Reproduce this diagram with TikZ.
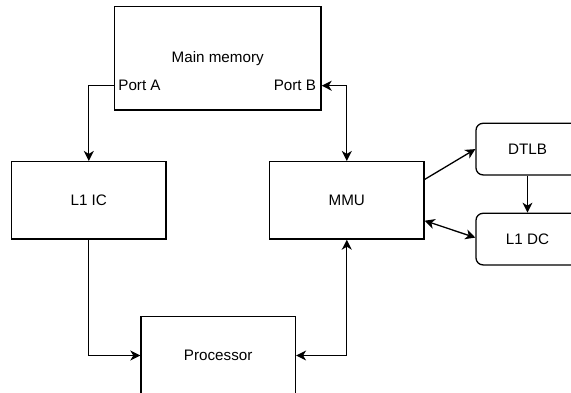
\documentclass[tikz,border=0pt]{standalone}
\usepackage{fontspec}
\setmainfont{Liberation Sans}
\usetikzlibrary{arrows.meta,calc}
\begin{document}
\begin{tikzpicture}[x=1pt,y=-1pt,
  box/.style={draw,line width=1.3pt,minimum width=154.5pt,minimum height=77.5pt,
    inner sep=0pt,font=\fontsize{15.2}{18}\selectfont},
  rbox/.style={box,rounded corners=7pt,minimum width=103pt,minimum height=51.6pt},
  lbl/.style={inner sep=0pt,font=\fontsize{15.2}{18}\selectfont},
  tip/.tip={Stealth[length=10pt,width=10pt,inset=3pt]},
  link/.style={line width=1.3pt,-tip},
  dlink/.style={line width=1.3pt,tip-tip}]
\useasboundingbox (0,0) rectangle (571,392);
\clip (0,0) rectangle (571,392);
\fill[white] (0,0) rectangle (571,392);

% memory hierarchy blocks
\node[box,minimum width=206.7pt,minimum height=103.7pt] (mm) at (217.7,58.2) {Main memory};
\node[box] (l1ic) at (88.8,200.3) {L1 IC};
\node[box] (mmu) at (346.8,200.3) {MMU};
\node[box] (proc) at (218.2,355.5) {Processor};
\node[rbox] (dtlb) at (527.5,149.1) {DTLB};
\node[rbox] (l1dc) at (527.5,239.1) {L1 DC};

% memory ports
\coordinate (pA) at ($(mm.south west)+(0,-25)$);
\coordinate (pB) at ($(mm.south east)+(0,-25)$);
\node[lbl,anchor=west] (pAl) at ($(pA)+(4.5,0)$) {Port A};
\node[lbl,anchor=east] (pBl) at ($(pB)+(-5.5,0)$) {Port B};

% connections
\draw[link] (pA) -| (l1ic.north);
\draw[dlink] (pB) -| (mmu.north);
\draw[link] (l1ic.south) |- (proc.west);
\draw[dlink] (proc.east) -| (mmu.south);
\coordinate (mmuA) at ($(mmu.north east)+(0,18.5)$);
\coordinate (mmuB) at ($(mmu.south east)+(0,-19)$);
\draw[link] (mmuA) -- (dtlb.west);
\draw[dlink] (mmuB) -- ($(l1dc.west)+(0,-1.5)$);
\draw[link] (dtlb.south) -- (l1dc.north);
\end{tikzpicture}
\end{document}
